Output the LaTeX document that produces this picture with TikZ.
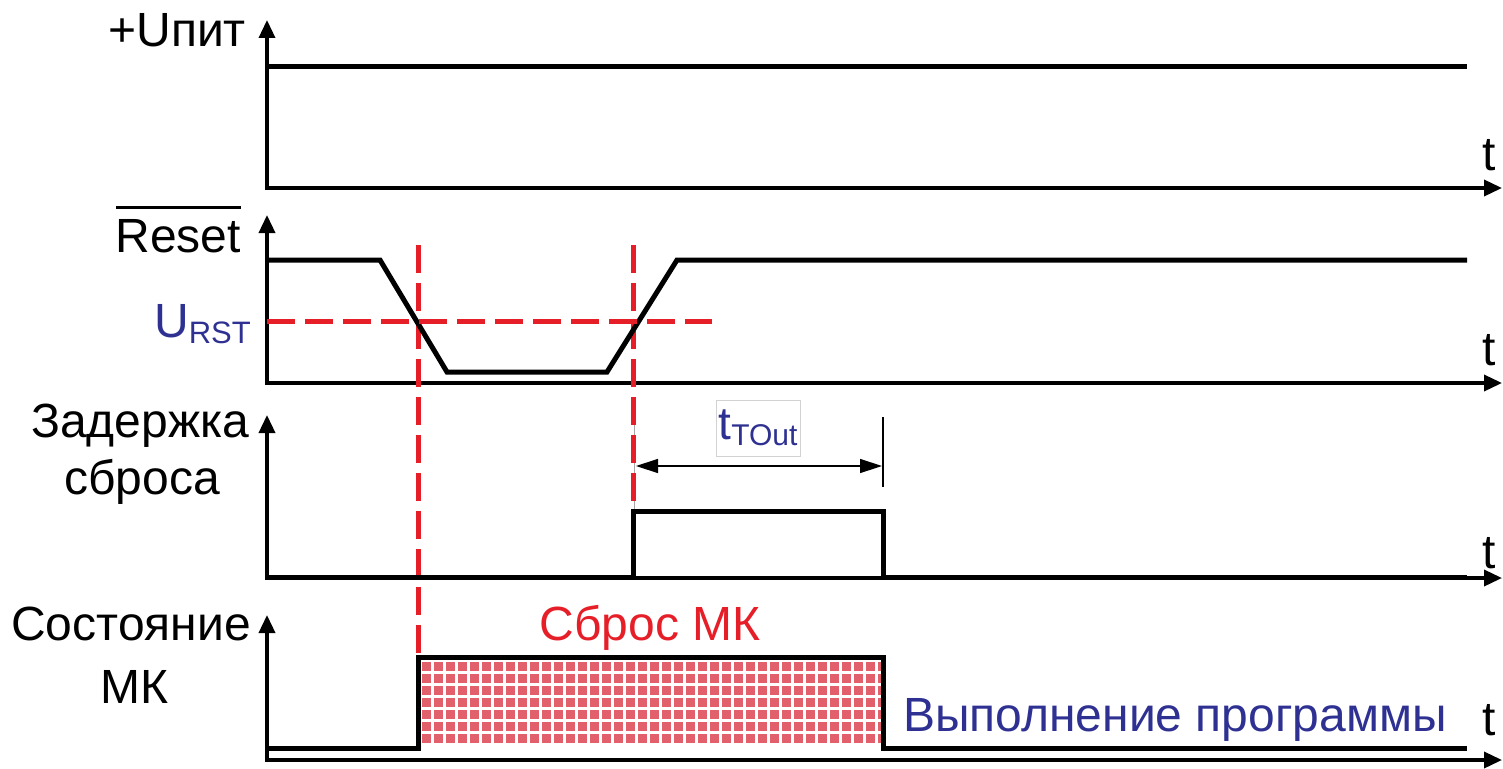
\documentclass[tikz,border=0pt]{standalone}
\usepackage{fontspec}
\setmainfont{Liberation Sans}
\usetikzlibrary{arrows.meta}
\definecolor{myred}{RGB}{230,30,40}
\definecolor{myblue}{RGB}{46,49,146}
\definecolor{patred}{RGB}{226,96,108}
\begin{document}
\begin{tikzpicture}[x=1pt,y=-1pt,
  axis/.style={line width=3.5pt,-{Triangle[length=18pt,width=16pt]}},
  sig/.style={line width=5pt,line join=miter},
  reddash/.style={draw=myred,line width=5pt,dash pattern=on 28pt off 10pt},
  lbl/.style={font=\fontsize{48}{52}\selectfont,inner sep=0pt},
  dimarrow/.style={line width=1.4pt,{Triangle[length=22pt,width=14pt]}-{Triangle[length=22pt,width=14pt]}}]
\path[use as bounding box] (0,0) rectangle (1503,768);
% coordinates
\coordinate (o1) at (267,188); \coordinate (y1) at (267,20); \coordinate (x1) at (1502,188);
\coordinate (o2) at (267,383); \coordinate (y2) at (267,215); \coordinate (x2) at (1502,383);
\coordinate (o3) at (267,578); \coordinate (y3) at (267,415); \coordinate (x3) at (1502,578);
\coordinate (o4) at (267,760); \coordinate (y4) at (267,615); \coordinate (x4) at (1502,760);
% axes
\foreach \i in {1,2,3,4}{
  \draw[axis] ([yshift=1.75pt]o\i) -- (y\i);
  \draw[axis] ([xshift=-1.75pt]o\i) -- (x\i);
}
% pattern
\begin{scope}
\clip (421,659) rectangle (881,746);
\fill[patred] (421,659) rectangle (881,746);
\foreach \gx in {420,432,...,888}{\draw[white,line width=3pt] (\gx,650) -- (\gx,760);}
\foreach \gy in {660,672,...,756}{\draw[white,line width=3pt] (410,\gy) -- (890,\gy);}
\end{scope}
% red dashed
\coordinate (d1a) at (418,245); \coordinate (d1b) at (418,655);
\coordinate (d2a) at (633,245); \coordinate (d2b) at (633,509);
\coordinate (ua) at (267,321); \coordinate (ub) at (712,321);
\draw[gray!70,line width=0.8pt] (634,420) -- (634,509);
\draw[reddash] (d1a) -- (d1b);
\draw[reddash] (d2a) -- (d2b);
% signals
\draw[sig] (267,66) -- (1467,66);
\draw[sig] (267,260) -- (380,260) -- (447,372) -- (607,372) -- (677,260) -- (1467,260);
\draw[reddash] (ua) -- (ub);
\draw[sig] (267,577) -- (633,577) -- (633,511) -- (883,511) -- (883,577) -- (1467,577);
\draw[sig] (267,748) -- (418,748) -- (418,657) -- (883,657) -- (883,748) -- (1467,748);
% dimension
\coordinate (ta) at (636,466); \coordinate (tb) at (882,466);
\draw[dimarrow] (ta) -- (tb);
\draw[line width=1.6pt] (883,417) -- (883,487);
\node[draw=gray!35,line width=0.8pt,minimum width=84pt,minimum height=56pt,inner sep=0pt,text=myblue] (tout) at (758,428)
  {\fontsize{46}{48}\selectfont t\fontsize{30}{32}\selectfont\raisebox{-6pt}{TOut}};
% labels
\node[lbl,anchor=base east] (lu) at (246,46) {+Uпит};
\node[lbl,anchor=base east] (lr) at (241,252) {Reset};
\draw[line width=3pt] (116,207) -- (241,207);
\node[lbl,anchor=base east,text=myblue] (lurst) at (251,337) {U\fontsize{31}{32}\selectfont\raisebox{-6pt}{RST}};
\node[lbl,anchor=base] (lz1) at (140,437) {Задержка};
\node[lbl,anchor=base] (lz2) at (142,494) {сброса};
\node[lbl,anchor=base] (ls1) at (131,640) {Состояние};
\node[lbl,anchor=base] (ls2) at (134,703) {МК};
\node[lbl,anchor=base,text=myred] (lsb) at (650,640) {Сброс МК};
\node[lbl,anchor=base west,text=myblue] (lvp) at (903,731) {Выполнение программы};
\node[lbl,anchor=base] (t1) at (1489,170) {t};
\node[lbl,anchor=base] (t2) at (1489,365) {t};
\node[lbl,anchor=base] (t3) at (1489,568) {t};
\node[lbl,anchor=base] (t4) at (1489,735) {t};
\end{tikzpicture}
\end{document}
